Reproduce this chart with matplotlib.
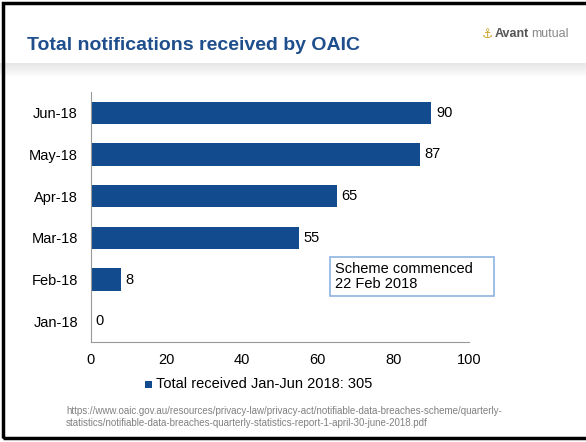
import matplotlib.pyplot as plt
import numpy as np
from matplotlib.patches import Rectangle

plt.rcParams['font.family'] = ['Liberation Sans', 'DejaVu Sans']

months = ['Jan-18', 'Feb-18', 'Mar-18', 'Apr-18', 'May-18', 'Jun-18']
counts = [0, 8, 55, 65, 87, 90]
total_label = 'Total received Jan-Jun 2018: 305'

bar_color = '#124C8F'
title_color = '#1F4E8C'

W, H = 586, 442
fig = plt.figure(figsize=(W / 100, H / 100), dpi=100)
fig.patch.set_facecolor('white')

# header shading under the title
grad = fig.add_axes([0, 1 - 76 / H, 1, 13 / H])
g = np.linspace(0.985, 0.9, 50).reshape(-1, 1)
grad.imshow(g, aspect='auto', cmap='gray', vmin=0, vmax=1, extent=[0, 1, 0, 1],
            origin='lower')
grad.axis('off')

# slide border
fig.add_artist(Rectangle((3 / W, 4 / H), 1.2, 1 - 7 / H, transform=fig.transFigure,
                         fill=False, edgecolor='black', linewidth=2.5))

fig.text(27 / W, 1 - 46 / H, 'Total notifications received by OAIC', color=title_color,
         fontsize=14, fontweight='bold', va='center', ha='left')

# logo
fig.text(495 / W, 1 - 34 / H, 'Avant', color='#555555', fontsize=9, fontweight='bold',
         va='center', ha='left')
fig.text(531 / W, 1 - 34 / H, 'mutual', color='#888888', fontsize=9,
         va='center', ha='left')
fig.text(482 / W, 1 - 34 / H, '\u2693', color='#C9A227', fontsize=9,
         va='center', ha='left', family=['DejaVu Sans'])

ax = fig.add_axes([90.5 / W, 1 - 342 / H, 378.5 / W, 250 / H])
y = np.arange(len(months))
ax.barh(y, counts, height=0.535, color=bar_color)
for yi, v in zip(y, counts):
    ax.text(v + 1.3, yi, str(v), va='center', ha='left', fontsize=10.5, color='black')

ax.set_xlim(0, 100)
ax.set_ylim(-0.5, len(months) - 0.5)
ax.set_yticks(y)
ax.set_yticklabels(months, fontsize=10.5)
ax.set_xticks(np.arange(0, 101, 20))
ax.tick_params(axis='x', labelsize=10.5, length=0, pad=8)
ax.tick_params(axis='y', length=0, pad=9)
for s in ['top', 'right']:
    ax.spines[s].set_visible(False)
for s in ['left', 'bottom']:
    ax.spines[s].set_color('#999999')
    ax.spines[s].set_linewidth(0.8)

# annotation box
fig.add_artist(Rectangle((330 / W, 1 - 296 / H), 164 / W, 39 / H, transform=fig.transFigure,
                         facecolor='white', edgecolor='#8DB4E2', linewidth=1.2))
fig.text(335 / W, 1 - 276.5 / H, 'Scheme commenced\n22 Feb 2018',
         fontsize=10.5, va='center', ha='left', linespacing=1.1)

# legend
fig.add_artist(Rectangle((144.5 / W, 1 - 388 / H), 7 / W, 7 / H, transform=fig.transFigure,
                         facecolor=bar_color, edgecolor='none'))
fig.text(155.5 / W, 1 - 383.5 / H, total_label, fontsize=10.5, va='center', ha='left')

fig.text(66 / W, 1 - 417 / H,
         'https://www.oaic.gov.au/resources/privacy-law/privacy-act/notifiable-data-breaches-scheme/quarterly-\n'
         'statistics/notifiable-data-breaches-quarterly-statistics-report-1-april-30-june-2018.pdf',
         fontsize=7, color='#808080', va='center', ha='left', linespacing=1.25)

fig.savefig('out.png', dpi=100)
